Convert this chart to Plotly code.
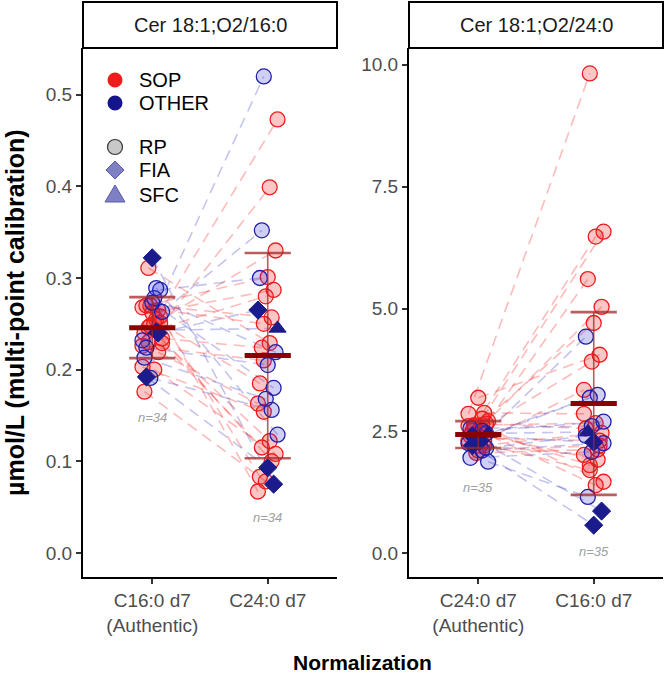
import plotly.graph_objects as go
import numpy as np

# ---------------- data ----------------
# Panel 1: Cer 18:1;O2/16:0  (x: C16:0 d7 (Authentic) -> C24:0 d7)
p1_group = ["OTHER", "SOP", "SOP", "OTHER", "SOP", "SOP", "OTHER", "SOP", "SOP", "OTHER",
            "SOP", "SOP", "OTHER", "SOP", "SOP", "OTHER", "OTHER", "SOP", "OTHER", "OTHER",
            "SOP", "OTHER", "SOP", "OTHER", "SOP", "SOP", "SOP", "OTHER", "SOP", "OTHER",
            "SOP", "SOP", "SOP", "SOP"]
p1_method = ["RP", "RP", "RP", "RP", "RP", "RP", "RP", "RP", "RP", "FIA",
             "RP", "RP", "SFC", "RP", "RP", "RP", "RP", "RP", "RP", "RP",
             "RP", "RP", "RP", "RP", "RP", "RP", "RP", "FIA", "RP", "FIA",
             "RP", "RP", "RP", "RP"]
p1_auth = [0.232, 0.255, 0.230, 0.263, 0.250, 0.270, 0.287, 0.262, 0.240, 0.240,
           0.270, 0.268, 0.243, 0.311, 0.234, 0.278, 0.224, 0.251, 0.273, 0.213,
           0.219, 0.191, 0.203, 0.289, 0.246, 0.229, 0.200, 0.192, 0.258, 0.322,
           0.176, 0.265, 0.248, 0.226]
p1_alt = [0.520, 0.473, 0.399, 0.352, 0.330, 0.301, 0.300, 0.287, 0.280, 0.265,
          0.257, 0.250, 0.245, 0.229, 0.224, 0.219, 0.205, 0.185, 0.180, 0.168,
          0.163, 0.156, 0.154, 0.129, 0.122, 0.115, 0.108, 0.093, 0.083, 0.075,
          0.078, 0.067, 0.100, 0.210]
p1_ticks = ["C16:0 d7<br>(Authentic)", "C24:0 d7"]

# Panel 2: Cer 18:1;O2/24:0  (x: C24:0 d7 (Authentic) -> C16:0 d7)
p2_group = ["SOP", "SOP", "SOP", "SOP", "SOP", "SOP", "OTHER", "SOP", "SOP", "SOP",
            "OTHER", "OTHER", "OTHER", "SOP", "OTHER", "SOP", "OTHER", "OTHER", "SOP", "OTHER",
            "SOP", "SOP", "SOP", "SOP", "SOP", "OTHER", "OTHER", "OTHER", "SOP", "SOP",
            "OTHER", "SOP", "SOP", "SOP", "OTHER"]
p2_method = ["RP", "RP", "RP", "RP", "RP", "RP", "RP", "RP", "RP", "RP",
             "RP", "RP", "RP", "RP", "SFC", "RP", "FIA", "RP", "RP", "RP",
             "RP", "RP", "RP", "RP", "RP", "RP", "FIA", "FIA", "RP", "RP",
             "RP", "RP", "RP", "RP", "RP"]
p2_auth = [2.85, 2.75, 2.60, 2.70, 2.55, 2.50, 2.45, 3.18, 2.40, 2.30,
           2.35, 2.25, 2.50, 2.62, 2.45, 2.20, 2.40, 2.15, 2.35, 1.95,
           2.20, 2.45, 2.30, 2.62, 2.55, 1.87, 2.30, 2.20, 2.65, 2.10,
           2.55, 2.87, 2.05, 2.60, 2.10]
p2_alt = [9.82, 6.58, 6.48, 5.61, 5.04, 4.71, 4.43, 4.06, 3.92, 3.34,
          3.24, 3.18, 2.69, 2.66, 2.48, 2.46, 2.27, 2.40, 2.30, 2.07,
          2.01, 1.91, 1.70, 1.46, 1.39, 1.15, 0.86, 0.57, 2.55, 2.20,
          2.60, 2.85, 2.12, 1.80, 2.25]
p2_ticks = ["C24:0 d7<br>(Authentic)", "C16:0 d7"]

panel_titles = ["Cer 18:1;O2/16:0", "Cer 18:1;O2/24:0"]
legend_colour_labels = ["SOP", "OTHER"]
legend_shape_labels = ["RP", "FIA", "SFC"]

# ---------------- styles ----------------
W, H = 664, 677
FONT = "Liberation Sans, Arial, sans-serif"
LINE_COL = {"SOP": "rgba(245,60,60,0.35)", "OTHER": "rgba(60,60,200,0.30)"}
EDGE = {"SOP": "#EE1C1C", "OTHER": "#1F1FA8"}
FILL = {"SOP": "rgba(238,28,28,0.25)", "OTHER": "rgba(40,40,220,0.22)"}
SOLID = "#1B1B8C"


def jit(i, k):
    return (((i * 7 + k * 3) % 11) - 5) / 5 * 0.085


def px(x):
    return x / W


def py(y):
    return 1 - y / H


fig = go.Figure()

panels = [
    (p1_group, p1_method, p1_auth, p1_alt, "x", "y"),
    (p2_group, p2_method, p2_auth, p2_alt, "x2", "y2"),
]

for pi, (grp, met, a, b, xa, ya) in enumerate(panels):
    n = len(a)
    xs1 = [1 + jit(i, 0) for i in range(n)]
    xs2 = [2 + jit(i, 1) for i in range(n)]
    for g in ["SOP", "OTHER"]:
        lx, ly = [], []
        for i in range(n):
            if grp[i] == g:
                lx += [xs1[i], xs2[i], None]
                ly += [a[i], b[i], None]
        fig.add_trace(go.Scatter(x=lx, y=ly, mode="lines", xaxis=xa, yaxis=ya,
                                 line=dict(color=LINE_COL[g], width=1.6, dash="11px,7px"),
                                 showlegend=False, hoverinfo="skip"))
    for g in ["SOP", "OTHER"]:
        for m in ["RP", "FIA", "SFC"]:
            qx, qy = [], []
            for i in range(n):
                if grp[i] == g and met[i] == m:
                    qx += [xs1[i], xs2[i]]
                    qy += [a[i], b[i]]
            if not qx:
                continue
            if m == "RP":
                mk = dict(symbol="circle", size=15, color=FILL[g],
                          line=dict(color=EDGE[g], width=1.3))
            elif m == "FIA":
                c = SOLID if g == "OTHER" else EDGE[g]
                mk = dict(symbol="diamond", size=14, color=c, line=dict(color=c, width=1))
            else:
                c = SOLID if g == "OTHER" else EDGE[g]
                mk = dict(symbol="triangle-up", size=15, color=c, line=dict(color=c, width=1))
            fig.add_trace(go.Scatter(x=qx, y=qy, mode="markers", xaxis=xa, yaxis=ya,
                                     marker=mk, showlegend=False))
    for xc, vals in [(1, a), (2, b)]:
        mu = float(np.mean(vals))
        sd = float(np.std(vals, ddof=1))
        fig.add_trace(go.Scatter(x=[xc, xc], y=[mu - sd, mu + sd], mode="lines",
                                 xaxis=xa, yaxis=ya, line=dict(color="rgba(160,40,40,0.75)", width=1.6),
                                 showlegend=False, hoverinfo="skip"))
        for yy in [mu - sd, mu + sd]:
            fig.add_trace(go.Scatter(x=[xc - 0.2, xc + 0.2], y=[yy, yy], mode="lines",
                                     xaxis=xa, yaxis=ya,
                                     line=dict(color="rgba(160,40,40,0.75)", width=2.6),
                                     showlegend=False, hoverinfo="skip"))
        fig.add_trace(go.Scatter(x=[xc - 0.2, xc + 0.2], y=[mu, mu], mode="lines",
                                 xaxis=xa, yaxis=ya, line=dict(color="#8B0000", width=5),
                                 showlegend=False, hoverinfo="skip"))

# ---------------- layout ----------------
xl0, xl1 = px(83), px(337)
xr0, xr1 = px(409), px(663)
yb, yt = py(577), py(48)

axis_common = dict(showgrid=False, zeroline=False, showline=True, linecolor="black", linewidth=2,
                   ticks="outside", ticklen=5, tickwidth=1.5, tickcolor="#333333",
                   tickfont=dict(family=FONT, size=19, color="#4D4D4D"), automargin=False)

fig.update_layout(
    width=W, height=H, margin=dict(l=0, r=0, t=0, b=0),
    plot_bgcolor="white", paper_bgcolor="white",
    font=dict(family=FONT),
    showlegend=False,
    xaxis=dict(domain=[xl0, xl1], range=[0.4, 2.6], tickvals=[1, 2], ticktext=p1_ticks,
               anchor="y", **axis_common),
    yaxis=dict(domain=[yb, yt], range=[-0.0263, 0.551], tickvals=[0, 0.1, 0.2, 0.3, 0.4, 0.5],
               ticktext=["0.0", "0.1", "0.2", "0.3", "0.4", "0.5"], anchor="x", **axis_common),
    xaxis2=dict(domain=[xr0, xr1], range=[0.4, 2.6], tickvals=[1, 2], ticktext=p2_ticks,
                anchor="y2", **axis_common),
    yaxis2=dict(domain=[yb, yt], range=[-0.49, 10.34], tickvals=[0, 2.5, 5, 7.5, 10],
                ticktext=["0.0", "2.5", "5.0", "7.5", "10.0"], anchor="x2", **axis_common),
)

# strip boxes
for (x0, x1), title in zip([(xl0, xl1), (xr0, xr1)], panel_titles):
    fig.add_shape(type="rect", xref="paper", yref="paper", x0=x0, x1=x1, y0=yt, y1=py(2),
                  line=dict(color="black", width=2), fillcolor="white", layer="above")
    fig.add_annotation(xref="paper", yref="paper", x=(x0 + x1) / 2, y=(yt + py(2)) / 2,
                       text=title, showarrow=False, font=dict(family=FONT, size=20, color="#1A1A1A"),
                       xanchor="center", yanchor="middle")

# n labels
for (a, b, xa, ya, span) in [(p1_auth, p1_alt, "x", "y", 0.525), (p2_auth, p2_alt, "x2", "y2", 9.85)]:
    for xc, vals in [(1, a), (2, b)]:
        fig.add_annotation(xref=xa, yref=ya, x=xc, y=min(vals) - 0.054 * span,
                           text="<i>n=%d</i>" % len(vals), showarrow=False,
                           font=dict(family=FONT, size=13, color="#A0A0A0"))

# ---------------- legend (keys drawn as layout shapes) ----------------
kx = 115
tx = 137
key_rows_col = [80, 103]
key_rows_shp = [147, 170, 195]
col_keys = ["#EE1C1C", "#14148C"]
for lab, yy, c in zip(legend_colour_labels, key_rows_col, col_keys):
    fig.add_shape(type="circle", xref="paper", yref="paper", x0=px(kx - 7.5), x1=px(kx + 7.5),
                  y0=py(yy + 7.5), y1=py(yy - 7.5), fillcolor=c, line=dict(width=0))
    fig.add_annotation(xref="paper", yref="paper", x=px(tx), y=py(yy), text=lab, showarrow=False,
                       xanchor="left", yanchor="middle", font=dict(family=FONT, size=20, color="black"))

shape_fill = "#7F7FC4"
shape_edge = "#5A5AA8"
fig.add_shape(type="circle", xref="paper", yref="paper", x0=px(kx - 7.5), x1=px(kx + 7.5),
              y0=py(key_rows_shp[0] + 7.5), y1=py(key_rows_shp[0] - 7.5),
              fillcolor="#C8C8C8", line=dict(color="#333333", width=1.2))
cy = key_rows_shp[1]
fig.add_shape(type="path", xref="paper", yref="paper",
              path="M %f %f L %f %f L %f %f L %f %f Z" % (px(kx - 9), py(cy), px(kx), py(cy - 9),
                                                        px(kx + 9), py(cy), px(kx), py(cy + 9)),
              fillcolor=shape_fill, line=dict(color=shape_edge, width=1))
cy = key_rows_shp[2]
fig.add_shape(type="path", xref="paper", yref="paper",
              path="M %f %f L %f %f L %f %f Z" % (px(kx - 10), py(cy + 7), px(kx + 10), py(cy + 7),
                                                px(kx), py(cy - 10)),
              fillcolor=shape_fill, line=dict(color=shape_edge, width=1))
for lab, yy in zip(legend_shape_labels, key_rows_shp):
    fig.add_annotation(xref="paper", yref="paper", x=px(tx), y=py(yy), text=lab, showarrow=False,
                       xanchor="left", yanchor="middle", font=dict(family=FONT, size=20, color="black"))

# axis titles
fig.add_annotation(xref="paper", yref="paper", x=px(15), y=py(313), textangle=-90,
                   text="<b>µmol/L (multi-point calibration)</b>", showarrow=False,
                   font=dict(family=FONT, size=25, color="black"), xanchor="center", yanchor="middle")
fig.add_annotation(xref="paper", yref="paper", x=px(362), y=py(662),
                   text="<b>Normalization</b>", showarrow=False,
                   font=dict(family=FONT, size=21, color="black"), xanchor="center", yanchor="middle")

fig.write_html("out.html", config={"displayModeBar": False},
               post_script="document.body.style.margin='0px';document.body.style.overflow='hidden';")
